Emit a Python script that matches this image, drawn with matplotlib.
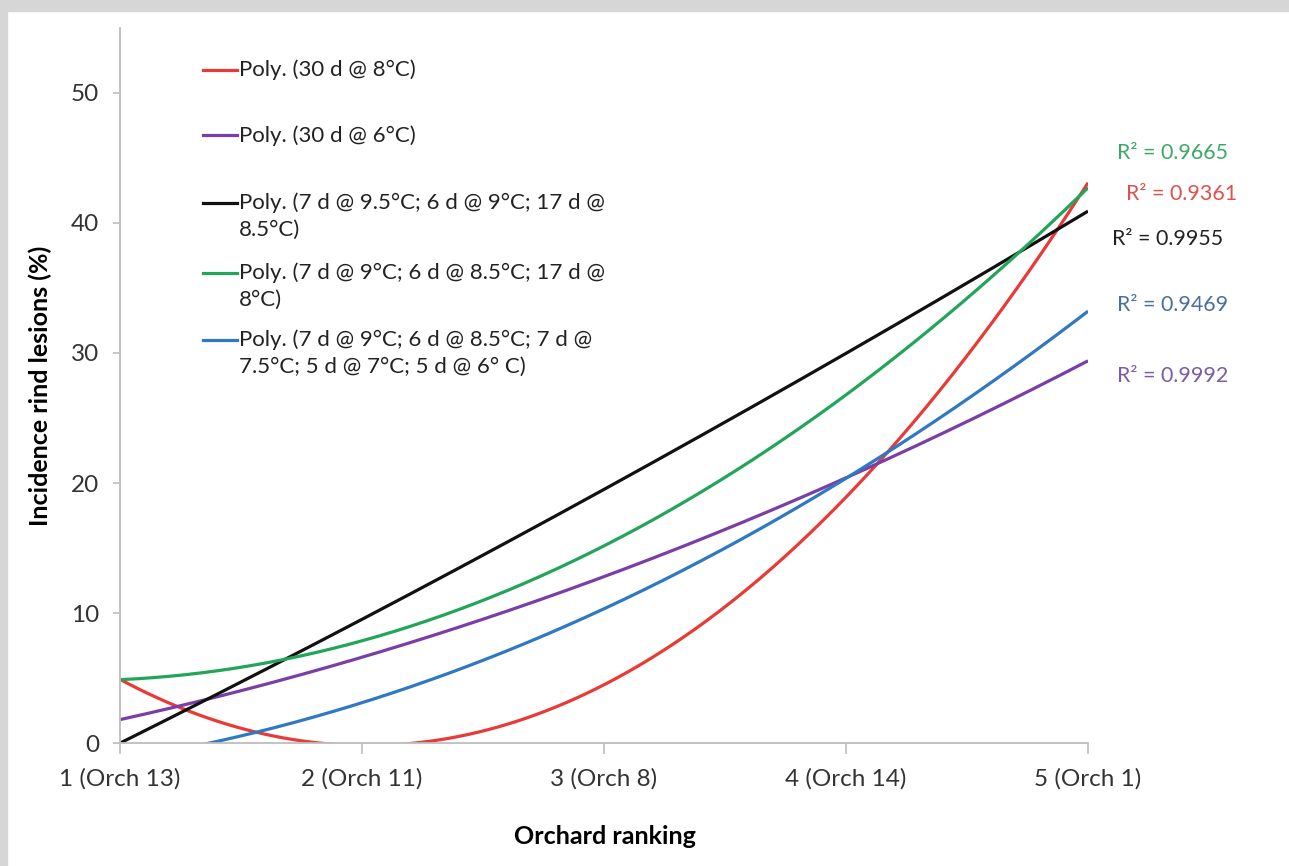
import matplotlib.pyplot as plt
import numpy as np
from matplotlib.patches import Rectangle
from matplotlib.lines import Line2D

plt.rcParams['font.family'] = ['Lato', 'DejaVu Sans']

# orchard ranking positions and tick labels
ranks = [1, 2, 3, 4, 5]
rank_labels = ["1 (Orch 13)", "2 (Orch 11)", "3 (Orch 8)", "4 (Orch 14)", "5 (Orch 1)"]

# incidence values read at each ranking (trend values)
red_vals = [4.9, -0.2, 4.5, 18.9, 43.1]
purple_vals = [1.8, 6.6, 12.8, 20.4, 29.4]
black_vals = [0.0, 9.5, 19.5, 30.0, 40.9]
green_vals = [4.9, 7.8, 15.2, 26.8, 42.7]
blue_vals = [-1.3, 3.1, 10.3, 20.4, 33.2]

names = ["Poly. (30 d @ 8°C)",
         "Poly. (30 d @ 6°C)",
         "Poly. (7 d @ 9.5°C; 6 d @ 9°C; 17 d @\n8.5°C)",
         "Poly. (7 d @ 9°C; 6 d @ 8.5°C; 17 d @\n8°C)",
         "Poly. (7 d @ 9°C; 6 d @ 8.5°C; 7 d @\n7.5°C; 5 d @ 7°C; 5 d @ 6° C)"]
r2 = ["0.9361", "0.9992", "0.9955", "0.9665", "0.9469"]
series = [red_vals, purple_vals, black_vals, green_vals, blue_vals]
colors = ["#e83a36", "#7a3fa6", "#111111", "#22a559", "#2f78c2"]
r2_colors = ["#e0504c", "#7a5ca8", "#222222", "#3ba866", "#4a6f9e"]

fig = plt.figure(figsize=(12.89, 8.66), dpi=100)
# framed look of the original picture
fig.patches.append(Rectangle((0, 0.987), 1, 0.013, transform=fig.transFigure,
                             color="#d6d6d6", zorder=0))
fig.patches.append(Rectangle((0, 0), 0.0055, 1, transform=fig.transFigure,
                             color="#d6d6d6", zorder=0))

ax = fig.add_axes([0.0931, 0.142, 0.751, 0.8257])
xs = np.linspace(1, 5, 300)
for vals, c in zip(series, colors):
    coef = np.polyfit(ranks, vals, 2)
    ax.plot(xs, np.polyval(coef, xs), color=c, lw=2.3, solid_capstyle="butt")

ax.set_xlim(1, 5)
ax.set_ylim(0, 55)
ax.set_yticks([0, 10, 20, 30, 40, 50])
ax.set_xticks(ranks)
ax.set_xticklabels(rank_labels)
for s in ["top", "right"]:
    ax.spines[s].set_visible(False)
for s in ["left", "bottom"]:
    ax.spines[s].set_color("#bdbdbd")
    ax.spines[s].set_linewidth(1.3)
ax.tick_params(axis="y", colors="#bdbdbd", labelcolor="#333333", labelsize=17.5,
               length=5, width=1.2, pad=10)
ax.tick_params(axis="x", colors="#bdbdbd", labelcolor="#333333", labelsize=17.5,
               length=8, width=1.2, pad=10)
ax.set_xlabel("Orchard ranking", fontsize=18, fontweight="bold")
ax.set_ylabel("Incidence rind lesions (%)", fontsize=18, fontweight="bold")
ax.xaxis.set_label_coords(0.501, -0.114)
ax.yaxis.set_label_coords(-0.07, 0.5)

# legend drawn by hand (Excel spacing is uneven)
leg_y = [0.941, 0.850, 0.755, 0.657, 0.564]
for y, c, n in zip(leg_y, colors, names):
    ax.add_line(Line2D([0.0857, 0.121], [y, y], transform=ax.transAxes, color=c, lw=2.3))
    if "\n" in n:
        ax.text(0.123, y + 0.0145, n, transform=ax.transAxes, va="top",
                fontsize=16, color="#222222", linespacing=1.4)
    else:
        ax.text(0.123, y, n, transform=ax.transAxes, va="center",
                fontsize=16, color="#222222")

# R² labels beside the line ends
r2_y = [42.2, 28.2, 38.8, 45.4, 33.7]
r2_x = [5.155, 5.12, 5.1, 5.12, 5.12]
for x, y, v, c in zip(r2_x, r2_y, r2, r2_colors):
    ax.text(x, y, "R² = " + v, color=c, fontsize=15.4, va="center", clip_on=False)

fig.savefig("out.png", dpi=100, facecolor="white")
